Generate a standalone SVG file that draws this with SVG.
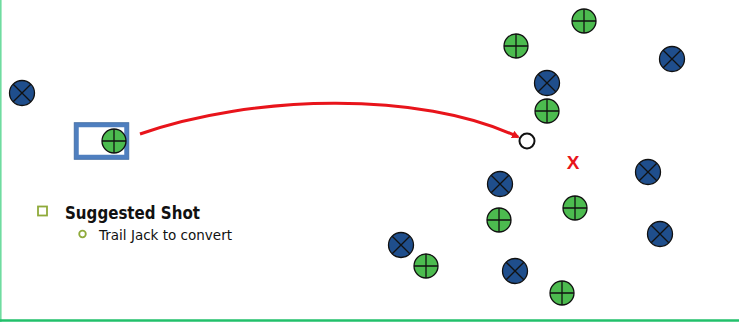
<svg xmlns="http://www.w3.org/2000/svg" width="739" height="322" viewBox="0 0 739 322">
<style>
.b{fill:#1f4e8c;stroke:#111;stroke-width:1.3}
.g{fill:#4cbb4f;stroke:#111;stroke-width:1.3}
.x{stroke:#111;stroke-width:1.3;fill:none}
.t{font-family:"DejaVu Sans","Liberation Sans",sans-serif;fill:#111}
</style>
<defs>
<g id="blue"><circle r="12.5" class="b"/><path class="x" d="M-8.8-8.8L8.8 8.8M8.8-8.8L-8.8 8.8"/></g>
<g id="green"><circle r="12" class="g"/><path class="x" d="M-12 0H12M0-12V12"/></g>
<marker id="ah" markerWidth="8" markerHeight="8" refX="6" refY="4" orient="auto" markerUnits="userSpaceOnUse"><path d="M0 0L8 4L0 8Z" fill="#e8141b"/></marker>
</defs>
<rect width="739" height="322" fill="#fff"/>
<line x1="0.8" y1="0" x2="0.8" y2="322" stroke="#6fdca0" stroke-width="1.6"/>
<line x1="0" y1="320.5" x2="739" y2="320.5" stroke="#22c06b" stroke-width="2.5"/>
<g id="connectors">
<path d="M140 134 C 250 95, 420 90, 518 137" fill="none" stroke="#e8141b" stroke-width="3" marker-end="url(#ah)"/>
</g>
<g id="shot-box"><rect x="76.5" y="125" width="50" height="32" fill="#fff" stroke="#4f7fbf" stroke-width="4.5"/><rect x="74.2" y="122.7" width="54.6" height="36.6" fill="none" stroke="#3b669e" stroke-width="0.8"/><use href="#green" x="114" y="141"/></g>
<g id="jack"><circle cx="527" cy="141" r="7.5" fill="#fff" stroke="#111" stroke-width="2"/></g>
<g id="target"><text x="573" y="169" font-family="Liberation Sans,sans-serif" font-weight="bold" font-size="19" fill="#e8141b" text-anchor="middle">X</text></g>
<g id="blues">
<use href="#blue" x="22" y="93"/>
<use href="#blue" x="547" y="83"/>
<use href="#blue" x="672" y="59"/>
<use href="#blue" x="648" y="172"/>
<use href="#blue" x="500" y="184"/>
<use href="#blue" x="660" y="234"/>
<use href="#blue" x="401" y="245"/>
<use href="#blue" x="515" y="271"/>
</g>
<g id="greens">
<use href="#green" x="584" y="21"/>
<use href="#green" x="516" y="46"/>
<use href="#green" x="547" y="111"/>
<use href="#green" x="499" y="220"/>
<use href="#green" x="575" y="208"/>
<use href="#green" x="426" y="266"/>
<use href="#green" x="562" y="293"/>
</g>
<g id="legend">
<rect x="38" y="206.5" width="9" height="9" fill="none" stroke="#8faa3a" stroke-width="1.8"/>
<text class="t" x="65" y="218.5" font-size="17" font-weight="bold" textLength="135" lengthAdjust="spacingAndGlyphs">Suggested Shot</text>
<circle cx="82.5" cy="234" r="3.3" fill="none" stroke="#8faa3a" stroke-width="1.8"/>
<text class="t" x="99" y="239.5" font-size="14.5" fill="#333" textLength="133" lengthAdjust="spacingAndGlyphs">Trail Jack to convert</text>
</g>
</svg>
